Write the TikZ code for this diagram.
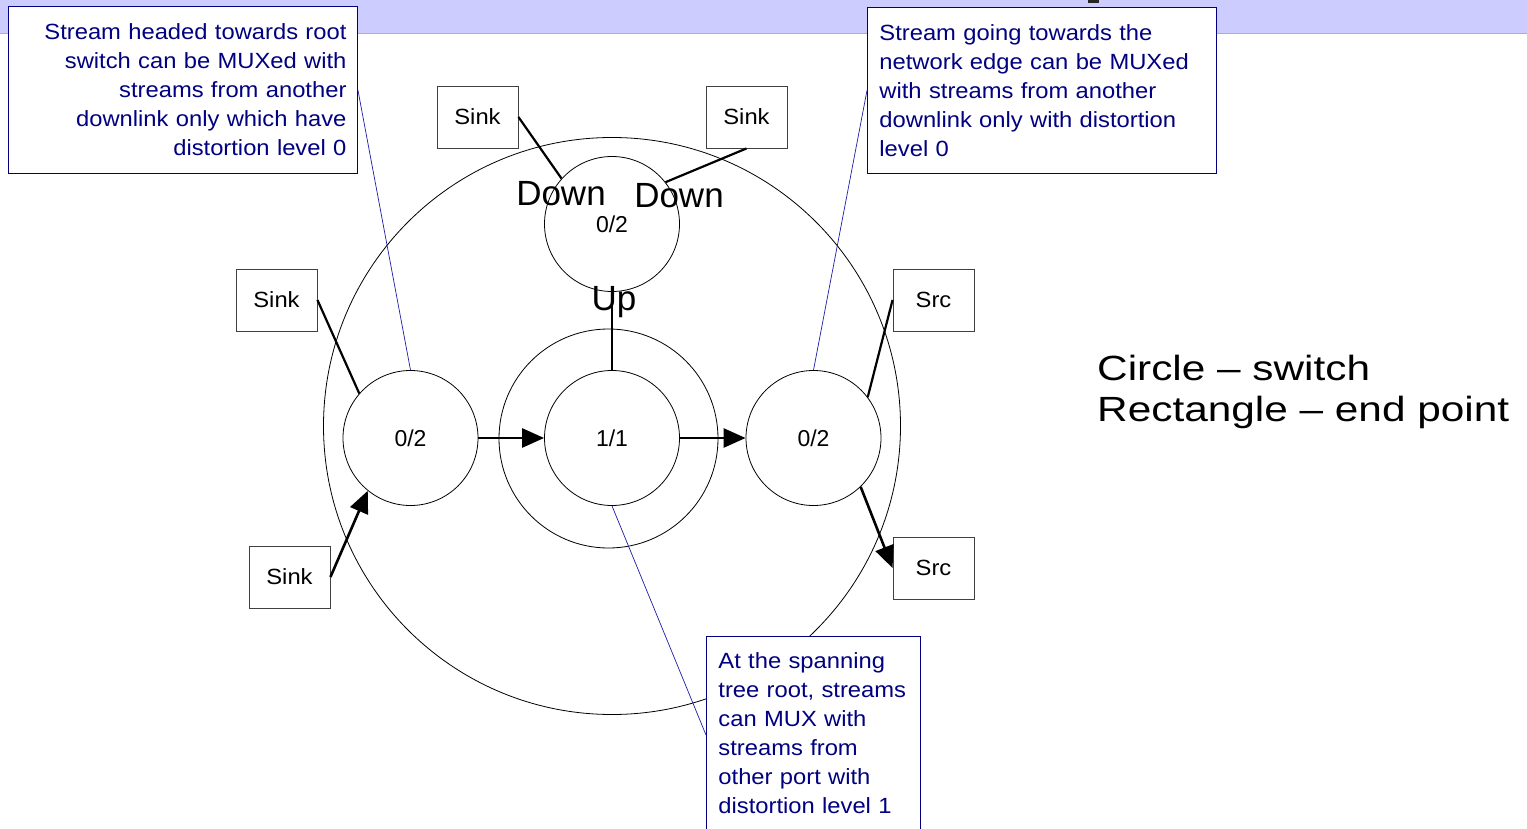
\documentclass[tikz,border=0pt]{standalone}
\usepackage{fontspec}
\setmainfont{Liberation Sans}
\newfontfamily\notefont[FakeStretch=1.08]{Liberation Sans}
\newfontfamily\legendfont[FakeStretch=1.21]{Liberation Sans}
\usetikzlibrary{arrows.meta}

\definecolor{band}{HTML}{CCCCFF}
\definecolor{bandedge}{HTML}{A8A8E6}
\definecolor{navy}{HTML}{000080}
\definecolor{leader}{HTML}{1C1CA8}

\begin{document}
\begin{tikzpicture}[x=1pt,y=-1pt,
  switch/.style={circle,draw,line width=0.8pt,minimum size=135pt,inner sep=0pt,
    font=\fontsize{23}{27}\selectfont},
  endpoint/.style={rectangle,draw=black!75,line width=0.9pt,minimum width=81pt,
    minimum height=62pt,inner sep=0pt,font=\notefont\fontsize{22}{26}\selectfont},
  note/.style={rectangle,draw=navy,line width=0.9pt,fill=white,text=navy,
    inner ysep=0pt,font=\notefont\fontsize{22}{29}\selectfont},
  link/.style={line width=2.2pt},
  flow/.style={line width=2.6pt,-{Triangle[length=22pt,width=19pt]}},
  leaderline/.style={leader,line width=0.7pt},
  portlabel/.style={font=\fontsize{35}{40}\selectfont,inner sep=0pt,anchor=base},
  legend/.style={font=\legendfont\fontsize{35}{41}\selectfont,inner sep=0pt,anchor=base west},
]
\useasboundingbox (0,0) rectangle (1527,829);

% title band
\fill[band] (0,0) rectangle (1527,34);
\draw[bandedge,line width=1pt] (0,34) -- (1527,34);
\fill[black!85] (1088,0) rectangle (1099,3.5);

% zones
\node[circle,draw,line width=0.8pt,minimum size=577pt,inner sep=0pt] (zone) at (612,426) {};
\node[circle,draw,line width=0.8pt,minimum size=219pt,inner sep=0pt] (ring) at (608.5,438.5) {};

% switches
\node[switch] (root) at (612,438) {1/1};
\node[switch] (lsw) at (410.5,438) {0/2};
\node[switch] (rsw) at (813.5,438) {0/2};
\node[switch] (tsw) at (612,224) {0/2};

% end points
\node[endpoint] (sinkTL) at (477.5,117) {Sink};
\node[endpoint] (sinkTR) at (746.5,117) {Sink};
\node[endpoint] (sinkL)  at (276.5,300) {Sink};
\node[endpoint] (sinkBL) at (289.5,577) {Sink};
\node[endpoint] (srcR)   at (933.5,300) {Src};
\node[endpoint] (srcB)   at (933.5,568) {Src};

% links
\draw[link] (sinkTL.east) -- (tsw.138.7);
\draw[link] (sinkTR.south) -- (tsw.38.4);
\draw[link] (sinkL.east) -- (lsw.139.6);
\draw[link] (srcR.west) -- (rsw.37.5);
\draw[line width=1.2pt] (tsw.south) -- (root.north);
\draw[flow] (sinkBL.east) -- (lsw.231.7);
\draw[flow] (lsw.east) -- (root.west);
\draw[flow] (root.east) -- (rsw.west);
\draw[flow] (rsw.314.7) -- (srcB.west);

% port labels
\node[portlabel] (downL) at (561,206) {Down};
\node[portlabel] (downR) at (679,208) {Down};
\node[portlabel] (up) at (614,311) {Up};

% annotations
\node[note,anchor=north west,inner xsep=11pt,text width=327pt,minimum height=167pt,align=right]
  (noteA) at (8,6) {Stream headed towards root\\switch can be MUXed with\\streams from another\\downlink only which have\\distortion level 0};
\node[note,anchor=north west,inner xsep=12pt,text width=325pt,minimum height=166pt,align=left]
  (noteB) at (867,7) {Stream going towards the\\network edge can be MUXed\\with streams from another\\downlink only with distortion\\level 0};
\node[note,anchor=north west,inner xsep=12pt,text width=190pt,minimum height=194pt,align=left]
  (noteC) at (706,636) {At the spanning\\tree root, streams\\can MUX with\\streams from\\other port with\\distortion level 1};

\draw[leaderline] (noteA.east) -- (lsw.north);
\draw[leaderline] (noteB.west) -- (rsw.north);
\draw[leaderline] (root.south) -- (noteC.west |- 0,735);

% legend
\node[legend] (legend1) at (1097,380) {Circle – switch};
\node[legend] (legend2) at (1097,421) {Rectangle – end point};
\end{tikzpicture}
\end{document}
